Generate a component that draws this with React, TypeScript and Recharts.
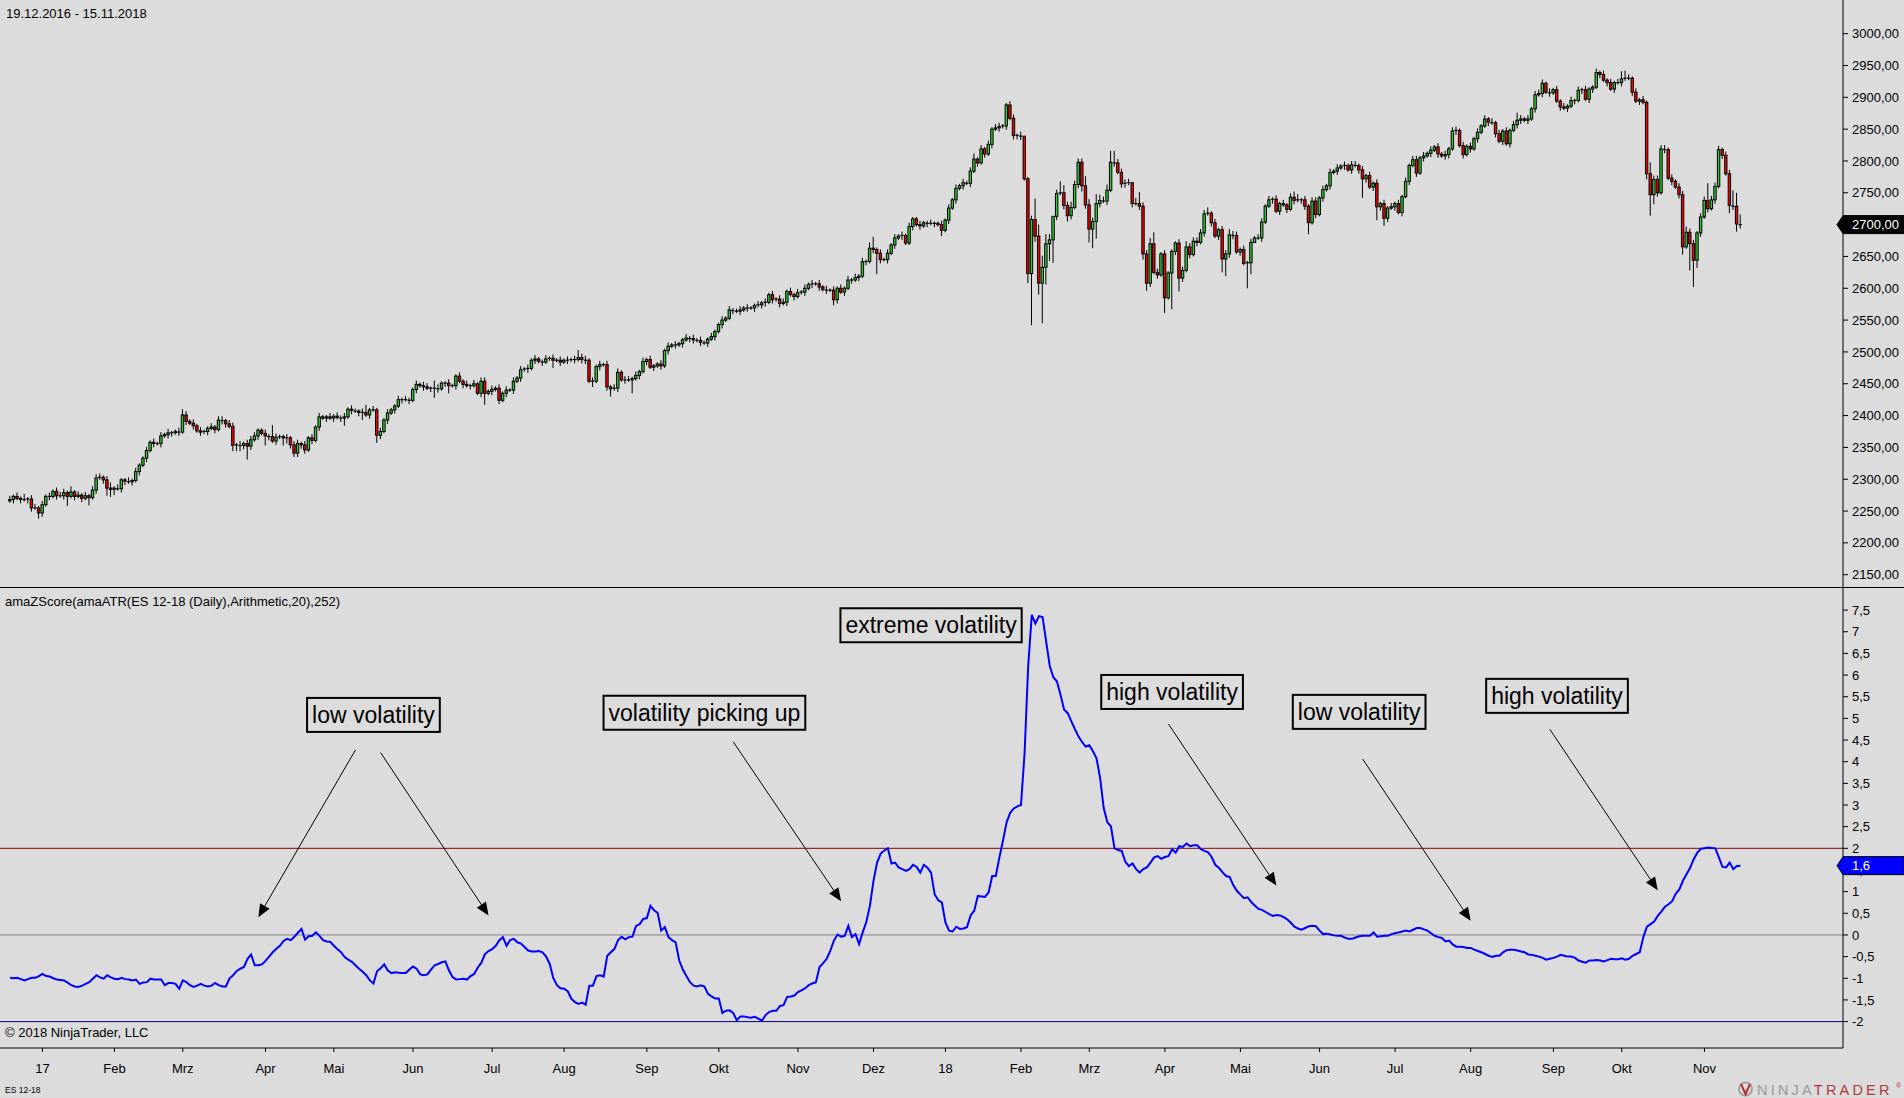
import React from 'react';
import { ComposedChart, Bar, Line, XAxis, YAxis, ReferenceLine, ReferenceDot } from 'recharts';

// ---------------- data ----------------
const FIRST_OPEN = 2266;

// daily closes, ES 12-18, 19.12.2016 .. 15.11.2018
const closesDec16ToAug17 = [
  2268, 2273, 2270, 2268, 2268, 2269, 2255, 2255, 2247, 2260,
  2273, 2273, 2281, 2274, 2274, 2279, 2273, 2280, 2273, 2275,
  2270, 2274, 2271, 2283, 2302, 2303, 2299, 2286, 2284, 2286,
  2285, 2299, 2297, 2296, 2298, 2312, 2322, 2333, 2345, 2358,
  2356, 2356, 2368, 2370, 2373, 2373, 2375, 2374, 2401, 2391,
  2388, 2384, 2376, 2374, 2375, 2380, 2382, 2378, 2393, 2392,
  2387, 2383, 2353, 2354, 2353, 2356, 2352, 2362, 2368, 2377,
  2372, 2368, 2367, 2360, 2366, 2367, 2365, 2365, 2354, 2341,
  2356, 2354, 2346, 2365, 2361, 2382, 2398, 2396, 2398, 2396,
  2399, 2397, 2396, 2398, 2410, 2408, 2407, 2405, 2405, 2401,
  2409, 2409, 2369, 2375, 2393, 2404, 2409, 2415, 2425, 2425,
  2425, 2424, 2441, 2449, 2447, 2445, 2443, 2443, 2443, 2442,
  2451, 2451, 2447, 2447, 2462, 2454, 2449, 2447, 2447, 2450,
  2435, 2454, 2435, 2438, 2441, 2443, 2424, 2435, 2440, 2440,
  2454, 2459, 2472, 2473, 2474, 2487, 2489, 2485, 2484, 2489,
  2490, 2487, 2487, 2484, 2487, 2487, 2488, 2488, 2491, 2488,
  2487, 2454, 2454, 2477, 2480,
];
const closesAug17ToApr18 = [
  2480, 2445, 2442, 2443, 2468, 2456, 2456, 2456, 2458, 2463,
  2469, 2485, 2488, 2476, 2478, 2481, 2478, 2502, 2509, 2511,
  2511, 2513, 2519, 2522, 2521, 2519, 2518, 2515, 2514, 2520,
  2524, 2532, 2543, 2550, 2553, 2566, 2565, 2564, 2566, 2569,
  2569, 2569, 2573, 2574, 2577, 2578, 2590, 2582, 2583, 2576,
  2578, 2595, 2590, 2587, 2593, 2594, 2600, 2606, 2607, 2607,
  2602, 2598, 2597, 2597, 2582, 2600, 2594, 2600, 2613, 2613,
  2617, 2619, 2642, 2642, 2663, 2661, 2655, 2645, 2645, 2655,
  2668, 2679, 2682, 2683, 2671, 2697, 2709, 2700, 2698, 2703,
  2702, 2702, 2702, 2700, 2691, 2707, 2726, 2739, 2757, 2761,
  2766, 2765, 2784, 2803, 2797, 2819, 2811, 2826, 2850, 2852,
  2854, 2855, 2888, 2867, 2840, 2840, 2839, 2772, 2623, 2708,
  2682, 2608, 2633, 2670, 2676, 2713, 2749, 2750, 2730, 2714,
  2727, 2763, 2798, 2761, 2731, 2693, 2705, 2733, 2738, 2737,
  2754, 2798, 2797, 2782, 2764, 2765, 2766, 2733, 2733, 2729,
  2654, 2608, 2670, 2625, 2621, 2654, 2585, 2624, 2658, 2671,
  2616, 2628, 2665, 2653, 2674, 2672, 2687,
];
const closesMay18ToNov18 = [
  2717, 2718, 2703, 2682, 2692, 2646, 2654, 2684, 2683, 2657,
  2661, 2639, 2640, 2672, 2679, 2679, 2704, 2729, 2739, 2740,
  2721, 2733, 2731, 2724, 2743, 2738, 2739, 2739, 2729, 2703,
  2737, 2716, 2742, 2755, 2761, 2782, 2784, 2789, 2792, 2793,
  2786, 2794, 2793, 2786, 2772, 2777, 2759, 2765, 2728, 2733,
  2710, 2726, 2728, 2733, 2719, 2744, 2768, 2793, 2802, 2781,
  2805, 2808, 2812, 2817, 2822, 2811, 2808, 2810, 2819, 2847,
  2848, 2824, 2810, 2823, 2819, 2835, 2845, 2855, 2866, 2861,
  2860, 2843, 2831, 2847, 2827, 2848, 2857, 2864, 2866, 2864,
  2866, 2882, 2904, 2906, 2922, 2908, 2907, 2912, 2894, 2885,
  2883, 2886, 2895, 2895, 2911, 2912, 2897, 2913, 2916, 2939,
  2936, 2927, 2923, 2913, 2923, 2923, 2929, 2930, 2930, 2908,
  2894, 2896, 2892, 2780, 2747, 2771, 2750, 2819, 2818, 2773,
  2768, 2759, 2747, 2665, 2688, 2670, 2644, 2687, 2712, 2738,
  2725, 2739, 2760, 2818, 2809, 2780, 2730, 2729, 2701, 2700,
];

// wick lengths per day, base-36 digit x 3 points (upper / lower shadow)
const WICK_UNIT = 3;
const upWickGroups = [
  '2121312212', '1212221312', '1212221231', '2112121121', '2121211232',
  '1212112122', '1221212221', '1216211212', '2121212112', '1212121124',
  '1212121121', '2112122142', '1121121212', '1221212121', '2121212112',
  '1212121242', '2121212122', '1221212121', '1212121121', '2121121121',
  '2112121121', '2121221212', '1212121212', '1212121213', '6121212121',
  '2112112112', '1212121231', '2121221122', '12012b6653', '0264232225',
  '3253236622', '2203622362', '1211122322', '2223121223', '2212121221',
  '2121212331', '2122121212', '1212212121', '2121212121', '2212121212',
  '1221212121', '2121212124', '2121222121', '2121212121', '1212121244',
  '2121216222', '2121223221', '2292221228', '75',
];
const downWickGroups = [
  '1212122132', '1212125121', '2141212443', '1221212121', '2121221212',
  '1212121212', '2133327212', '1521214322', '2221212121', '2124121241',
  '2142121212', '1212121252', '1241212121', '1261212121', '2121212121',
  '1412121212', '2131212412', '1217121212', '1212121212', '2121212121',
  '1212121212', '2121212121', '1212121213', '2121212121', '2b21212121',
  '1212121213', '1212121212', '1212121212', '2215r36l99', 'c212321232',
  '7a92121212', '2121234212', '181j272121', '2121212792', '2121d60121',
  '1212121212', '2612121212', '121212a212', '7242121212', '1212121212',
  '2121212121', '1212121212', '2121212121', '1212121212', '2121212121',
  '121213b521', '2121241ee4', '2121212142', '42',
];

// amaZScore(amaATR(...)) values per day
const zScores = [
  -0.99, -1.0, -0.99, -1.02, -1.05, -1.02, -0.99, -0.99, -0.95, -0.9,
  -0.95, -0.96, -1.0, -1.03, -1.04, -1.05, -1.1, -1.16, -1.19, -1.2,
  -1.17, -1.13, -1.09, -1.01, -0.93, -0.98, -1.01, -0.93, -0.98, -1.01,
  -1.02, -0.99, -1.02, -1.03, -1.05, -1.03, -1.13, -1.1, -1.09, -1.01,
  -1.03, -1.03, -1.03, -1.16, -1.11, -1.11, -1.13, -1.24, -1.05, -1.09,
  -1.16, -1.2, -1.17, -1.13, -1.17, -1.19, -1.17, -1.11, -1.16, -1.19,
  -1.19, -1.0, -0.93, -0.83, -0.78, -0.74, -0.55, -0.45, -0.7, -0.7,
  -0.68, -0.6, -0.5, -0.4, -0.32, -0.25, -0.14, -0.09, -0.12, -0.04,
  0.05, 0.14, -0.11, -0.03, -0.02, 0.06, -0.02, -0.12, -0.15, -0.16,
  -0.25, -0.33, -0.4, -0.51, -0.57, -0.62, -0.7, -0.78, -0.85, -0.93,
  -1.05, -1.12, -0.84, -0.77, -0.68, -0.82, -0.88, -0.86, -0.87, -0.88,
  -0.88, -0.8, -0.73, -0.78, -0.91, -0.93, -0.91, -0.8, -0.7, -0.67,
  -0.63, -0.61, -0.82, -0.97, -1.03, -1.02, -1.01, -1.03, -0.95, -0.9,
  -0.75, -0.64, -0.44, -0.37, -0.33, -0.25, -0.12, -0.05, -0.25, -0.12,
  -0.09, -0.17, -0.2, -0.28, -0.36, -0.38, -0.38, -0.37, -0.4, -0.5,
  -0.67, -1.0, -1.16, -1.23, -1.24, -1.3, -1.47, -1.55, -1.59, -1.56,
  -1.61, -1.17, -1.17, -0.95, -0.93, -0.96, -0.48, -0.4, -0.32, -0.12,
  -0.04, -0.1, -0.05, -0.04, 0.21, 0.25, 0.37, 0.39, 0.67, 0.57,
  0.51, 0.1, 0.18, -0.05, -0.12, -0.17, -0.59, -0.8, -0.95, -1.09,
  -1.17, -1.19, -1.16, -1.19, -1.36, -1.42, -1.47, -1.47, -1.8, -1.75,
  -1.74, -1.8, -1.97, -1.88, -1.88, -1.9, -1.91, -1.89, -1.93, -1.98,
  -1.85, -1.78, -1.75, -1.75, -1.64, -1.62, -1.43, -1.42, -1.4, -1.32,
  -1.28, -1.23, -1.16, -1.12, -1.09, -0.74, -0.65, -0.55, -0.36, -0.13,
  0.01, -0.04, -0.02, 0.21, -0.05, 0.02, -0.21, 0.06, 0.3, 0.67,
  1.25, 1.67, 1.88, 1.95, 2.0, 1.65, 1.67, 1.56, 1.52, 1.48,
  1.52, 1.62, 1.57, 1.44, 1.62, 1.55, 1.44, 0.94, 0.8, 0.75,
  0.29, 0.1, 0.08, 0.19, 0.14, 0.15, 0.18, 0.45, 0.56, 0.9,
  0.89, 0.88, 0.98, 1.36, 1.36, 1.79, 2.18, 2.6, 2.82, 2.92,
  2.97, 3.0, 4.2, 6.2, 7.39, 7.19, 7.36, 7.34, 6.77, 6.21,
  5.95, 5.85, 5.54, 5.2, 5.12, 4.93, 4.75, 4.58, 4.45, 4.35,
  4.38, 4.24, 4.08, 3.62, 2.93, 2.6, 2.51, 2.0, 1.96, 1.94,
  1.69, 1.59, 1.65, 1.52, 1.44, 1.52, 1.56, 1.67, 1.79, 1.82,
  1.76, 1.8, 1.82, 1.98, 1.9, 2.05, 2.03, 2.11, 2.05, 2.07,
  2.07, 1.98, 1.94, 1.91, 1.8, 1.62, 1.55, 1.45, 1.36, 1.34,
  1.15, 1.02, 0.93, 0.85, 0.87, 0.76, 0.68, 0.6, 0.58, 0.53,
  0.48, 0.44, 0.46, 0.45, 0.41, 0.36, 0.28, 0.19, 0.15, 0.12,
  0.16, 0.2, 0.21, 0.2, 0.1, 0.02, 0.03, 0.01, -0.01, -0.02,
  -0.02, -0.06, -0.09, -0.09, -0.06, -0.03, -0.02, -0.02, -0.02, 0.06,
  -0.04, -0.03, -0.02, -0.02, 0.02, 0.04, 0.06, 0.08, 0.1, 0.08,
  0.12, 0.16, 0.16, 0.13, 0.1, 0.04, -0.02, -0.05, -0.07, -0.15,
  -0.13, -0.22, -0.27, -0.27, -0.28, -0.3, -0.3, -0.34, -0.37, -0.4,
  -0.44, -0.48, -0.51, -0.48, -0.48, -0.4, -0.35, -0.34, -0.34, -0.36,
  -0.38, -0.4, -0.45, -0.46, -0.48, -0.5, -0.53, -0.57, -0.55, -0.53,
  -0.5, -0.46, -0.48, -0.5, -0.5, -0.53, -0.59, -0.62, -0.64, -0.59,
  -0.59, -0.58, -0.59, -0.61, -0.58, -0.55, -0.56, -0.56, -0.54, -0.57,
  -0.55, -0.48, -0.44, -0.4, -0.05, 0.19, 0.25, 0.31, 0.44, 0.54,
  0.65, 0.71, 0.78, 0.95, 1.05, 1.25, 1.4, 1.55, 1.75, 1.9,
  1.99, 2.0, 2.02, 2.01, 2.0, 1.79, 1.57, 1.56, 1.67, 1.52,
  1.59, 1.6,
];

// first trading day of each month (day index) and its label
const monthTickIndex = [9, 29, 48, 71, 90, 112, 134, 154, 177, 197, 219, 240, 260, 281, 300, 321, 342, 364, 385, 406, 429, 448, 471];
const monthTickLabels = ['17', 'Feb', 'Mrz', 'Apr', 'Mai', 'Jun', 'Jul', 'Aug', 'Sep', 'Okt', 'Nov', 'Dez', '18', 'Feb', 'Mrz', 'Apr', 'Mai', 'Jun', 'Jul', 'Aug', 'Sep', 'Okt', 'Nov'];

const priceTicks = [2150, 2200, 2250, 2300, 2350, 2400, 2450, 2500, 2550, 2600, 2650, 2700, 2750, 2800, 2850, 2900, 2950, 3000];
const zTicks = [-2, -1.5, -1, -0.5, 0, 0.5, 1, 1.5, 2, 2.5, 3, 3.5, 4, 4.5, 5, 5.5, 6, 6.5, 7, 7.5];

// annotations (day index, z value)
const noteTexts = ['low volatility', 'volatility picking up', 'extreme volatility', 'high volatility', 'low volatility', 'high volatility'];
const noteDay = [101, 193, 256, 323, 375, 430];
const noteZ = [5.08, 5.13, 7.15, 5.61, 5.15, 5.52];

const arrowFromDay = [96, 103, 201, 322, 376, 428];
const arrowFromZ = [4.27, 4.21, 4.46, 4.87, 4.06, 4.75];
const arrowToDay = [69, 133, 231, 352, 406, 458];
const arrowToZ = [0.41, 0.45, 0.78, 1.14, 0.33, 1.03];

// ---------------- layout / style ----------------
const W = 1904;
const H = 1098;
const TOP_H = 588;
const BOT_PLOT_H = 460;
const BOT_AXIS_H = 42;
const AXIS_W = 61;
const SLOT_COUNT = 510;
const LEFT_PAD = 8.3;
const FONT = '"Liberation Sans", Arial, Helvetica, sans-serif';
const BG = '#dcdcdc';
const UP = '#32cd32';
const DOWN = '#ff0000';
const PRICE_DOMAIN: [number, number] = [2129.1, 3052.9];
const Z_DOMAIN: [number, number] = [-2.61, 8.01];

const closes = [...closesDec16ToAug17, ...closesAug17ToApr18, ...closesMay18ToNov18];
const upCodes = upWickGroups.join('');
const downCodes = downWickGroups.join('');
const wickOf = (codes: string, i: number) => {
  const v = parseInt(codes.charAt(i) || '1', 36);
  return (isNaN(v) ? 1 : v) * WICK_UNIT;
};

const rows = Array.from({ length: SLOT_COUNT }, (_, i) => {
  if (i >= closes.length) return { i } as any;
  const c = closes[i];
  const o = i === 0 ? FIRST_OPEN : closes[i - 1];
  const h = Math.max(o, c) + wickOf(upCodes, i);
  const l = Math.min(o, c) - wickOf(downCodes, i);
  return { i, o, h, l, c, hl: [l, h], z: zScores[i] };
});

const monthLabelByIndex: Record<number, string> = {};
monthTickIndex.forEach((d, k) => { monthLabelByIndex[d] = monthTickLabels[k]; });

const fmtPrice = (v: number) => `${v},00`;
const fmtZ = (v: number) => String(v).replace('.', ',');

let measureCtx: CanvasRenderingContext2D | null = null;
function textWidth(text: string, font: string): number {
  try {
    if (!measureCtx) measureCtx = document.createElement('canvas').getContext('2d');
    if (!measureCtx) return text.length * 11;
    measureCtx.font = font;
    return measureCtx.measureText(text).width;
  } catch (e) {
    return text.length * 11;
  }
}

// ---------------- shapes ----------------
const Candle = (props: any) => {
  const { x, y, width, height, payload } = props;
  if (!payload || payload.o == null || !isFinite(x) || !isFinite(y) || !isFinite(height)) return null;
  const top = Math.min(y, y + height);
  const span = Math.abs(height);
  const { o, h, l, c } = payload;
  const toY = (p: number) => (h === l ? top : top + ((h - p) / (h - l)) * span);
  const cx = x + width / 2;
  const yo = toY(o);
  const yc = toY(c);
  const bTop = Math.min(yo, yc);
  const bH = Math.abs(yo - yc);
  return (
    <g>
      <line x1={cx} x2={cx} y1={top} y2={top + span} stroke="#000" strokeWidth={1} />
      {bH < 0.8 ? (
        <line x1={cx - 1.6} x2={cx + 1.6} y1={yc} y2={yc} stroke="#000" strokeWidth={1.2} />
      ) : (
        <rect x={cx - 1.2} y={bTop} width={2.4} height={bH} fill={c >= o ? UP : DOWN} stroke="#000" strokeWidth={1} />
      )}
    </g>
  );
};

const NoteBox = (props: any) => {
  const { cx, cy, text } = props;
  if (cx == null || cy == null || !isFinite(cx) || !isFinite(cy)) return null;
  const w = textWidth(text, `23px ${FONT}`) + 10;
  const h = 34;
  return (
    <g>
      <rect x={cx - w / 2} y={cy - h / 2} width={w} height={h} fill="none" stroke="#000" strokeWidth={2} />
      <text x={cx} y={cy + 8} textAnchor="middle" fontSize={23} fontFamily={FONT} fill="#000">{text}</text>
    </g>
  );
};

const ArrowShape = (props: any) => {
  const { x1, y1, x2, y2 } = props;
  if ([x1, y1, x2, y2].some((v) => v == null || !isFinite(v))) return null;
  const dx = x2 - x1;
  const dy = y2 - y1;
  const len = Math.hypot(dx, dy) || 1;
  const ux = dx / len;
  const uy = dy / len;
  const L = 13;
  const HW = 5.5;
  const bx = x2 - ux * L;
  const by = y2 - uy * L;
  const pts = `${x2},${y2} ${bx - uy * HW},${by + ux * HW} ${bx + uy * HW},${by - ux * HW}`;
  return (
    <g>
      <line x1={x1} y1={y1} x2={bx} y2={by} stroke="#000" strokeWidth={1} />
      <polygon points={pts} fill="#000" />
    </g>
  );
};

const ValueMarker = (props: any) => {
  const { viewBox, text, fill, stroke } = props;
  if (!viewBox) return null;
  const right = viewBox.x + viewBox.width;
  const cy = viewBox.y;
  const hh = 9;
  return (
    <g>
      <path
        d={`M${right - 6},${cy} L${right},${cy - hh} L${right + AXIS_W},${cy - hh} L${right + AXIS_W},${cy + hh} L${right},${cy + hh} Z`}
        fill={fill}
        stroke={stroke}
        strokeWidth={1}
      />
      <text x={right + 9} y={cy + 4.7} fontSize={13} fontFamily={FONT} fill="#fff">{text}</text>
    </g>
  );
};

const axisTick = { fontSize: 13, fill: '#000', fontFamily: FONT };
const noMargin = { top: 0, right: 0, bottom: 0, left: 0 };

// transparent chart drawn over an axis, carrying only the last-value marker
const MarkerOverlay = (props: { height: number; plotHeight: number; domain: [number, number]; value: number; text: string; fill: string }) => (
  <ComposedChart width={W} height={props.height} data={rows} margin={{ ...noMargin, bottom: props.height - props.plotHeight }}>
    <XAxis dataKey="i" type="category" scale="band" hide padding={{ left: LEFT_PAD, right: 0 }} />
    <YAxis orientation="right" width={AXIS_W} domain={props.domain} allowDataOverflow tick={false} axisLine={false} tickLine={false} />
    <ReferenceLine y={props.value} stroke="none" label={<ValueMarker text={props.text} fill={props.fill} stroke="#000" />} />
  </ComposedChart>
);

export default function App() {
  const lastClose = closes[closes.length - 1];
  const lastZ = zScores[zScores.length - 1];
  return (
    <div style={{ position: 'fixed', left: 0, top: 0, width: W, height: H, background: BG, overflow: 'hidden' }}>
      <div style={{ position: 'absolute', left: 0, top: 0 }}>
        <ComposedChart width={W} height={TOP_H} data={rows} margin={noMargin}>
          <XAxis dataKey="i" type="category" scale="band" hide padding={{ left: LEFT_PAD, right: 0 }} />
          <YAxis
            orientation="right"
            width={AXIS_W}
            domain={PRICE_DOMAIN}
            allowDataOverflow
            ticks={priceTicks}
            interval={0}
            tickFormatter={fmtPrice}
            tick={axisTick}
            tickSize={5}
            tickMargin={4}
            axisLine={{ stroke: '#000' }}
            tickLine={{ stroke: '#000' }}
          />
          <Bar dataKey="hl" barSize={3} shape={Candle} isAnimationActive={false} />
        </ComposedChart>
      </div>
      <div style={{ position: 'absolute', left: 0, top: TOP_H }}>
        <ComposedChart width={W} height={BOT_PLOT_H + BOT_AXIS_H} data={rows} margin={noMargin}>
          <XAxis
            dataKey="i"
            type="category"
            scale="band"
            padding={{ left: LEFT_PAD, right: 0 }}
            ticks={monthTickIndex}
            interval={0}
            tickFormatter={(v: number) => monthLabelByIndex[v] || ''}
            height={BOT_AXIS_H}
            tickSize={4}
            tickMargin={12}
            tick={axisTick}
            axisLine={{ stroke: '#000' }}
            tickLine={{ stroke: '#000' }}
          />
          <YAxis
            orientation="right"
            width={AXIS_W}
            domain={Z_DOMAIN}
            allowDataOverflow
            ticks={zTicks}
            interval={0}
            tickFormatter={fmtZ}
            tick={axisTick}
            tickSize={5}
            tickMargin={4}
            axisLine={{ stroke: '#000' }}
            tickLine={{ stroke: '#000' }}
          />
          <ReferenceLine y={2} stroke="#8b0000" strokeWidth={1} />
          <ReferenceLine y={0} stroke="#808080" strokeWidth={1} />
          <ReferenceLine y={-2} stroke="#00008b" strokeWidth={1} />
          <Line dataKey="z" stroke="#0000ff" strokeWidth={2} dot={false} isAnimationActive={false} />
          {noteTexts.map((t, k) => (
            <ReferenceDot key={`n${k}`} x={noteDay[k]} y={noteZ[k]} r={1} ifOverflow="visible" shape={(p: any) => <NoteBox {...p} text={t} />} />
          ))}
          {arrowFromDay.map((d, k) => (
            <ReferenceLine
              key={`a${k}`}
              segment={[{ x: d, y: arrowFromZ[k] }, { x: arrowToDay[k], y: arrowToZ[k] }]}
              ifOverflow="visible"
              shape={ArrowShape}
            />
          ))}
        </ComposedChart>
      </div>
      <div style={{ position: 'absolute', left: 0, top: 0, pointerEvents: 'none' }}>
        <MarkerOverlay height={TOP_H} plotHeight={TOP_H} domain={PRICE_DOMAIN} value={lastClose} text={fmtPrice(lastClose)} fill="#000" />
      </div>
      <div style={{ position: 'absolute', left: 0, top: TOP_H, pointerEvents: 'none' }}>
        <MarkerOverlay height={BOT_PLOT_H + BOT_AXIS_H} plotHeight={BOT_PLOT_H} domain={Z_DOMAIN} value={lastZ} text={fmtZ(lastZ)} fill="#0000ff" />
      </div>
      <svg width={W} height={H} style={{ position: 'absolute', left: 0, top: 0, pointerEvents: 'none' }}>
        <line x1={0} x2={W} y1={TOP_H - 0.5} y2={TOP_H - 0.5} stroke="#000" strokeWidth={1} />
        <text x={6} y={17.5} fontSize={13} fontFamily={FONT} fill="#000">19.12.2016 - 15.11.2018</text>
        <text x={5} y={606} fontSize={13} fontFamily={FONT} fill="#000">amaZScore(amaATR(ES 12-18 (Daily),Arithmetic,20),252)</text>
        <text x={5} y={1037} fontSize={13} fontFamily={FONT} fill="#000">© 2018 NinjaTrader, LLC</text>
        <text x={5} y={1093} fontSize={8.5} fontFamily={FONT} fill="#000">ES 12-18</text>
        <g>
          <circle cx={1745.5} cy={1089} r={6.5} fill="none" stroke="#a0a0a0" strokeWidth={2} />
          <path d="M1741,1084 L1745.5,1094 L1750,1084" fill="none" stroke="#b03030" strokeWidth={2} />
          <text x={1757} y={1095} fontSize={14.5} fontFamily={FONT} letterSpacing={3.2}>
            <tspan fill="#9a9a9a">NINJA</tspan>
            <tspan fill="#b03a3a">TRADER</tspan>
          </text>
          <text x={1896} y={1088} fontSize={7} fontFamily={FONT} fill="#b03a3a">®</text>
        </g>
      </svg>
    </div>
  );
}
